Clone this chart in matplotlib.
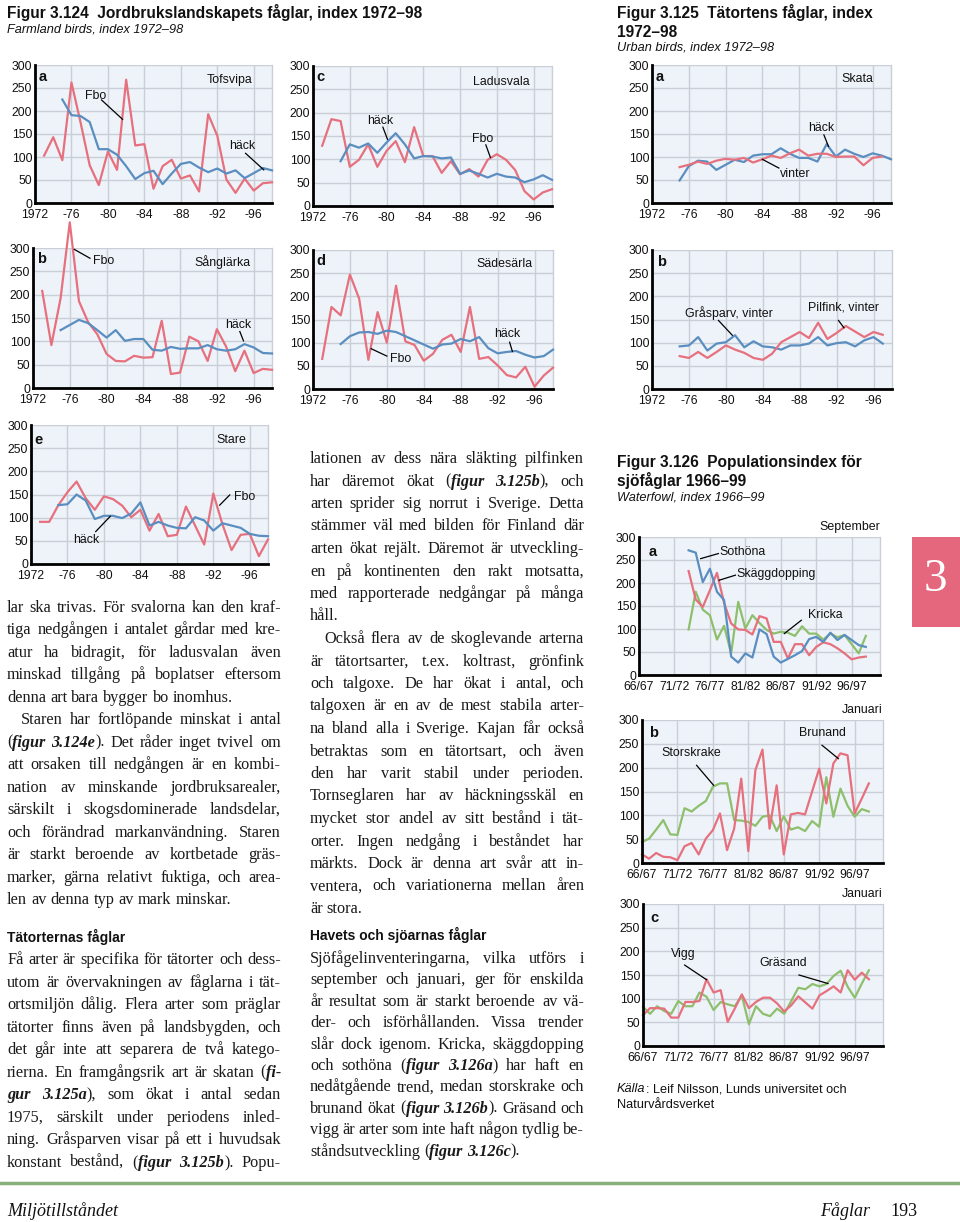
import matplotlib
matplotlib.use('Agg')
import matplotlib.pyplot as plt
from matplotlib.patches import Rectangle
from matplotlib.lines import Line2D

W, H = 960, 1222
fig = plt.figure(figsize=(9.6, 12.22), dpi=100)
fig.patch.set_facecolor('white')

PINK = '#e6707e'
BLUE = '#5b8ec0'
GREEN = '#8dbf6c'
BG = '#eef3f9'
GRIDC = '#c9ced8'
SANS = 'Liberation Sans'
SERIF = 'Liberation Serif'

# ---------------- data ----------------
YRS_73 = list(range(1973, 1999))
YRS_75 = list(range(1975, 1999))
YRS_75_97 = list(range(1975, 1998))
SEASONS = list(range(1966, 1999))
SEASONS_73 = list(range(1973, 1999))

X_TICKS_72 = [1972, 1976, 1980, 1984, 1988, 1992, 1996]
X_LABELS_72 = ['1972', '-76', '-80', '-84', '-88', '-92', '-96']
X_TICKS_66 = [1966, 1971, 1976, 1981, 1986, 1991, 1996]
X_LABELS_66 = ['66/67', '71/72', '76/77', '81/82', '86/87', '91/92', '96/97']
Y_TICKS = [0, 50, 100, 150, 200, 250, 300]

# Fig 3.124a Tofsvipa
tofsvipa_fbo = [103, 143, 93, 262, 175, 82, 39, 112, 72, 268, 125, 128, 31, 80, 94, 53,
                60, 25, 193, 146, 51, 22, 53, 27, 43, 45]
tofsvipa_hack = [225, 191, 189, 176, 117, 117, 105, 80, 52, 65, 70, 41, 64, 85, 89, 77,
                 67, 75, 64, 71, 54, 65, 76, 71]
# Fig 3.124b Sånglärka
sanglarka_fbo = [208, 92, 192, 355, 186, 141, 115, 73, 58, 57, 69, 65, 66, 144, 30, 33,
                 110, 100, 58, 126, 89, 36, 80, 32, 41, 39]
sanglarka_hack = [124, 135, 146, 139, 124, 108, 124, 101, 105, 105, 82, 80, 88, 84, 85, 85,
                  92, 83, 80, 83, 94, 87, 75, 74]
# Fig 3.124c Ladusvala
ladusvala_fbo = [129, 186, 182, 84, 99, 132, 84, 118, 139, 94, 169, 107, 107, 71, 96, 68,
                 79, 63, 99, 111, 99, 77, 32, 14, 29, 36]
ladusvala_hack = [96, 132, 125, 134, 114, 136, 156, 132, 102, 107, 106, 102, 104, 69, 76, 69,
                  61, 69, 63, 61, 51, 57, 66, 56]
# Fig 3.124d Sädesärla
sadesarla_fbo = [65, 177, 159, 247, 195, 63, 166, 100, 223, 103, 95, 61, 76, 106, 117, 80,
                 177, 65, 69, 51, 30, 25, 48, 5, 29, 46]
sadesarla_hack = [97, 114, 122, 123, 119, 126, 123, 114, 105, 96, 87, 96, 98, 108, 103, 112,
                  88, 77, 80, 82, 74, 68, 71, 85]
# Fig 3.124e Stare
stare_fbo = [91, 91, 127, 155, 178, 142, 117, 146, 140, 126, 101, 117, 72, 108, 60, 63,
             124, 83, 42, 152, 86, 30, 63, 65, 17, 53]
stare_hack = [127, 129, 150, 137, 97, 104, 104, 99, 109, 133, 83, 91, 83, 78, 77, 101,
              94, 72, 88, 83, 78, 65, 61, 60]
# Fig 3.125a Skata
skata_hack = [49, 80, 92, 90, 72, 83, 94, 89, 103, 106, 106, 119, 107, 98, 98, 90,
              128, 101, 116, 107, 100, 108, 103, 95]
skata_vinter = [78, 83, 90, 85, 92, 96, 94, 98, 88, 95, 103, 98, 108, 116, 103, 107,
                107, 100, 101, 101, 82, 98, 101]
# Fig 3.125b
grasparv_vinter = [92, 94, 112, 83, 98, 101, 116, 90, 103, 92, 90, 85, 94, 94, 98, 112,
                   94, 99, 101, 92, 105, 112, 98]
pilfink_vinter = [71, 67, 80, 67, 80, 94, 85, 78, 67, 63, 76, 101, 112, 123, 110, 143,
                  108, 121, 136, 124, 112, 123, 117]
# Fig 3.126a (September)
sothona = [271, 266, 202, 231, 181, 163, 40, 27, 47, 38, 99, 89, 40, 27, 35, 43,
           52, 78, 83, 72, 92, 76, 87, 76, 65, 61]
skaggdopping = [226, 164, 148, 184, 222, 157, 112, 99, 98, 88, 128, 123, 72, 72, 36, 67,
                67, 43, 61, 71, 67, 58, 47, 34, 38, 40]
kricka = [99, 181, 142, 130, 77, 107, 47, 159, 101, 130, 113, 98, 90, 94, 92, 85,
          106, 90, 90, 77, 90, 82, 87, 67, 47, 85]
# Fig 3.126b (Januari)
brunand = [18, 9, 21, 13, 12, 6, 35, 42, 18, 51, 69, 104, 27, 72, 177, 25, 195, 238, 72,
           163, 18, 102, 105, 102, 150, 198, 125, 209, 230, 226, 104, 135, 167]
storskrake = [44, 51, 70, 90, 60, 59, 115, 108, 120, 130, 160, 167, 167, 90, 89, 86, 78,
              97, 100, 67, 98, 70, 75, 67, 88, 76, 180, 97, 156, 120, 97, 113, 108]
# Fig 3.126c (Januari)
vigg = [65, 80, 80, 79, 60, 60, 93, 93, 95, 141, 113, 118, 51, 79, 109, 80, 93, 102, 102,
        90, 73, 86, 105, 92, 79, 107, 116, 126, 113, 160, 140, 155, 141]
grasand = [83, 68, 84, 74, 68, 95, 84, 84, 113, 104, 76, 93, 88, 84, 107, 46, 84, 68, 63,
           79, 68, 95, 123, 120, 131, 126, 131, 148, 159, 125, 102, 132, 160]


# ---------------- helpers ----------------
def make_ax(l, t, r, b, xlim, xticks, xlabels):
    ax = fig.add_axes([l / W, 1 - b / H, (r - l) / W, (b - t) / H])
    ax.set_facecolor(BG)
    ax.set_xlim(*xlim)
    ax.set_ylim(0, 300)
    ax.set_xticks(xticks)
    ax.set_xticklabels(xlabels)
    ax.set_yticks(Y_TICKS)
    ax.set_yticklabels([str(v) for v in Y_TICKS])
    ax.grid(True, color=GRIDC, lw=1.0)
    ax.set_axisbelow(True)
    ax.spines['top'].set_visible(False)
    ax.spines['right'].set_color(GRIDC)
    ax.spines['right'].set_linewidth(1.0)
    for s in ['left', 'bottom']:
        ax.spines[s].set_color('black')
        ax.spines[s].set_linewidth(2.0)
        ax.spines[s].set_zorder(5)
    ax.tick_params(length=0, labelsize=8.8, labelcolor='#111111')
    ax.tick_params(axis='y', pad=2)
    ax.tick_params(axis='x', pad=4)
    for lb in ax.get_xticklabels() + ax.get_yticklabels():
        lb.set_family(SANS)
    return ax


def line(ax, x, y, c):
    ax.plot(x, y, color=c, lw=1.6, clip_on=False, solid_joinstyle='round', zorder=3)


def lab(ax, s, x, y, ha='center', bold=False, size=8.9):
    ax.text(x, y, s, ha=ha, va='center', fontsize=size, family=SANS,
            weight='bold' if bold else 'normal', color='#111111', zorder=6)


def leader(ax, x0, y0, x1, y1):
    ax.plot([x0, x1], [y0, y1], color='black', lw=0.9, zorder=6, clip_on=False)


P72 = dict(xlim=(1972, 1998), xticks=X_TICKS_72, xlabels=X_LABELS_72)
P66 = dict(xlim=(1966, 2000), xticks=X_TICKS_66, xlabels=X_LABELS_66)

# ---- Fig 3.124a
ax = make_ax(35, 65, 272, 203, **P72)
line(ax, YRS_73, tofsvipa_fbo, PINK)
line(ax, YRS_75, tofsvipa_hack, BLUE)
lab(ax, 'a', 1972.4, 273, ha='left', bold=True, size=10.5)
lab(ax, 'Tofsvipa', 1993.3, 268)
lab(ax, 'Fbo', 1978.6, 233)
leader(ax, 1979.3, 224, 1981.6, 182)
lab(ax, 'häck', 1994.7, 123)
leader(ax, 1995.1, 108, 1997.1, 72)

# ---- Fig 3.124c
ax = make_ax(313, 66, 552, 206, **P72)
line(ax, YRS_73, ladusvala_fbo, PINK)
line(ax, YRS_75, ladusvala_hack, BLUE)
lab(ax, 'c', 1972.4, 276, ha='left', bold=True, size=10.5)
lab(ax, 'Ladusvala', 1992.5, 265)
lab(ax, 'häck', 1979.3, 182)
leader(ax, 1979.6, 169, 1980.1, 143)
lab(ax, 'Fbo', 1990.4, 143)
leader(ax, 1990.8, 131, 1991.3, 104)

# ---- Fig 3.125a
ax = make_ax(652, 65, 891, 203, **P72)
line(ax, YRS_75, skata_hack, BLUE)
line(ax, YRS_75_97, skata_vinter, PINK)
lab(ax, 'a', 1972.4, 273, ha='left', bold=True, size=10.5)
lab(ax, 'Skata', 1994.3, 270)
lab(ax, 'häck', 1990.4, 163)
leader(ax, 1990.7, 148, 1991.2, 123)
lab(ax, 'vinter', 1987.6, 64)
leader(ax, 1985.8, 76, 1984.0, 95)

# ---- Fig 3.124b
ax = make_ax(33, 248, 272, 388, **P72)
line(ax, YRS_73, sanglarka_fbo, PINK)
line(ax, YRS_75, sanglarka_hack, BLUE)
lab(ax, 'b', 1972.4, 277, ha='left', bold=True, size=10.5)
lab(ax, 'Sånglärka', 1992.6, 269)
lab(ax, 'Fbo', 1979.7, 272)
leader(ax, 1978.2, 278, 1976.5, 297)
lab(ax, 'häck', 1994.3, 134)
leader(ax, 1994.5, 121, 1994.9, 101)

# ---- Fig 3.124d
ax = make_ax(313, 250, 553, 389, **P72)
line(ax, YRS_73, sadesarla_fbo, PINK)
line(ax, YRS_75, sadesarla_hack, BLUE)
lab(ax, 'd', 1972.4, 276, ha='left', bold=True, size=10.5)
lab(ax, 'Sädesärla', 1992.7, 269)
lab(ax, 'häck', 1993.0, 119)
leader(ax, 1993.3, 101, 1993.6, 81)
lab(ax, 'Fbo', 1981.5, 65)
leader(ax, 1980.0, 71, 1978.3, 87)

# ---- Fig 3.125b
ax = make_ax(652, 250, 892, 389, **P72)
line(ax, YRS_75_97, grasparv_vinter, BLUE)
line(ax, YRS_75_97, pilfink_vinter, PINK)
lab(ax, 'b', 1972.6, 275, ha='left', bold=True, size=10.5)
lab(ax, 'Gråsparv, vinter', 1980.3, 163)
leader(ax, 1979.2, 148, 1980.7, 116)
lab(ax, 'Pilfink, vinter', 1992.8, 175)
leader(ax, 1992.2, 148, 1992.8, 132)

# ---- Fig 3.124e
ax = make_ax(31, 425, 268, 564, **P72)
line(ax, YRS_73, stare_fbo, PINK)
line(ax, YRS_75, stare_hack, BLUE)
lab(ax, 'e', 1972.4, 268, ha='left', bold=True, size=10.5)
lab(ax, 'Stare', 1994.0, 268)
lab(ax, 'Fbo', 1995.4, 144)
leader(ax, 1993.8, 149, 1992.7, 127)
lab(ax, 'häck', 1978.1, 52)
leader(ax, 1979.1, 70, 1980.7, 103)

# ---- Fig 3.126a
ax = make_ax(639, 537, 880, 675, **P66)
line(ax, SEASONS_73, kricka, GREEN)
line(ax, SEASONS_73, skaggdopping, PINK)
line(ax, SEASONS_73, sothona, BLUE)
lab(ax, 'a', 1967.3, 267, ha='left', bold=True, size=10.5)
lab(ax, 'Sothöna', 1977.3, 267, ha='left')
leader(ax, 1977.2, 264, 1974.7, 253)
lab(ax, 'Skäggdopping', 1979.7, 219, ha='left')
leader(ax, 1979.6, 217, 1977.3, 206)
lab(ax, 'Kricka', 1989.9, 130, ha='left')
leader(ax, 1988.9, 119, 1986.5, 90)
ax.text(1.0, 1.03, 'September', transform=ax.transAxes, ha='right', va='bottom',
        fontsize=8.9, family=SANS, color='#111111')

# ---- Fig 3.126b
ax = make_ax(642, 720, 883, 863, **P66)
line(ax, SEASONS, storskrake, GREEN)
line(ax, SEASONS, brunand, PINK)
lab(ax, 'b', 1967.0, 272, ha='left', bold=True, size=10.5)
lab(ax, 'Storskrake', 1972.9, 230)
leader(ax, 1973.7, 205, 1976.1, 163)
lab(ax, 'Brunand', 1991.5, 272)
leader(ax, 1991.4, 247, 1993.7, 219)
ax.text(1.0, 1.03, 'Januari', transform=ax.transAxes, ha='right', va='bottom',
        fontsize=8.9, family=SANS, color='#111111')

# ---- Fig 3.126c
ax = make_ax(643, 904, 883, 1046, **P66)
line(ax, SEASONS, grasand, GREEN)
line(ax, SEASONS, vigg, PINK)
lab(ax, 'c', 1967.0, 270, ha='left', bold=True, size=10.5)
lab(ax, 'Vigg', 1971.7, 195)
leader(ax, 1971.9, 171, 1975.0, 140)
lab(ax, 'Gräsand', 1985.9, 176)
leader(ax, 1988.1, 150, 1992.2, 132)
ax.text(1.0, 1.03, 'Januari', transform=ax.transAxes, ha='right', va='bottom',
        fontsize=8.9, family=SANS, color='#111111')


# ---------------- page texts ----------------
renderer = fig.canvas.get_renderer()


def ftext(x, y, s, size=9, weight='normal', style='normal', family=SANS, ha='left',
          color='#111111'):
    return fig.text(x / W, 1 - y / H, s, fontsize=size, weight=weight, style=style,
                    family=family, ha=ha, va='baseline', color=color)


ftext(7, 18, 'Figur 3.124  Jordbrukslandskapets fåglar, index 1972–98', size=11.2, weight='bold')
ftext(7, 32, 'Farmland birds, index 1972–98', size=9.2, style='italic')
ftext(617, 18, 'Figur 3.125  Tätortens fåglar, index', size=11.2, weight='bold')
ftext(617, 37, '1972–98', size=11.2, weight='bold')
ftext(617, 51, 'Urban birds, index 1972–98', size=9.2, style='italic')
ftext(617, 467, 'Figur 3.126  Populationsindex för', size=11.2, weight='bold')
ftext(617, 486, 'sjöfåglar 1966–99', size=11.2, weight='bold')
ftext(617, 500, 'Waterfowl, index 1966–99', size=9.2, style='italic')
kt = ftext(617, 1092, 'Källa', size=9.2, style='italic')
kw = kt.get_window_extent(renderer).width
ftext(617 + kw + 0.5, 1092, ': Leif Nilsson, Lunds universitet och', size=9.2)
ftext(617, 1108, 'Naturvårdsverket', size=9.2)

ftext(7, 942, 'Tätorternas fåglar', size=10, weight='bold')
ftext(310, 940, 'Havets och sjöarnas fåglar', size=10, weight='bold')

BODY = 11.7


def parse(line_s):
    segs, style, buf = [], 'n', ''
    for ch in line_s:
        if ch == '*':
            if buf:
                segs.append((buf, style))
                buf = ''
            style = 'bi' if style == 'n' else 'n'
        else:
            buf += ch
    if buf:
        segs.append((buf, style))
    words = [[]]
    for txt, st in segs:
        parts = txt.split(' ')
        for i, p in enumerate(parts):
            if i > 0:
                words.append([])
            if p:
                words[-1].append((p, st))
    return [w for w in words if w]


def mk(s, st, size):
    return fig.text(0, 0, s, fontsize=size, family=SERIF,
                    style='italic' if 'i' in st else 'normal',
                    weight='bold' if 'b' in st else 'normal',
                    va='baseline', ha='left', color='#1a1a1a')


def draw_par(lines, x0, x1, ytop, dy):
    for k, raw in enumerate(lines):
        y = ytop + k * dy
        justify = not raw.endswith('|')
        raw = raw.rstrip('|')
        indent = 0
        if raw.startswith('>'):
            indent = 14
            raw = raw[1:]
        size = BODY
        words = parse(raw)
        for attempt in range(3):
            objs = []
            widths = []
            for w in words:
                pieces = []
                tot = 0
                for s, st in w:
                    t = mk(s, st, size)
                    wd = t.get_window_extent(renderer).width
                    pieces.append((t, wd))
                    tot += wd
                objs.append(pieces)
                widths.append(tot)
            space = size * 100 / 72 * 0.25
            avail = x1 - x0 - indent
            natural = sum(widths) + space * 0.75 * (len(words) - 1)
            if natural > avail and attempt < 2:
                for pieces in objs:
                    for t, _ in pieces:
                        t.remove()
                size = size * avail / natural * 0.995
                continue
            break
        if justify and len(words) > 1:
            gap = (avail - sum(widths)) / (len(words) - 1)
        else:
            gap = space
        x = x0 + indent
        for pieces, wd in zip(objs, widths):
            xx = x
            for t, pw in pieces:
                t.set_position((xx / W, 1 - y / H))
                xx += pw
            x += wd + gap


LEFT1 = [
    "lar ska trivas. För svalorna kan den kraf-",
    "tiga nedgången i antalet gårdar med kre-",
    "atur ha bidragit, för ladusvalan även",
    "minskad tillgång på boplatser eftersom",
    "denna art bara bygger bo inomhus.|",
    ">Staren har fortlöpande minskat i antal",
    "(*figur 3.124e*). Det råder inget tvivel om",
    "att orsaken till nedgången är en kombi-",
    "nation av minskande jordbruksarealer,",
    "särskilt i skogsdominerade landsdelar,",
    "och förändrad markanvändning. Staren",
    "är starkt beroende av kortbetade gräs-",
    "marker, gärna relativt fuktiga, och area-",
    "len av denna typ av mark minskar.|",
]
LEFT2 = [
    "Få arter är specifika för tätorter och dess-",
    "utom är övervakningen av fåglarna i tät-",
    "ortsmiljön dålig. Flera arter som präglar",
    "tätorter finns även på landsbygden, och",
    "det går inte att separera de två katego-",
    "rierna. En framgångsrik art är skatan (*fi-*",
    "*gur 3.125a*), som ökat i antal sedan",
    "1975, särskilt under periodens inled-",
    "ning. Gråsparven visar på ett i huvudsak",
    "konstant bestånd, (*figur 3.125b*). Popu-",
]
MID1 = [
    "lationen av dess nära släkting pilfinken",
    "har däremot ökat (*figur 3.125b*), och",
    "arten sprider sig norrut i Sverige. Detta",
    "stämmer väl med bilden för Finland där",
    "arten ökat rejält. Däremot är utveckling-",
    "en på kontinenten den rakt motsatta,",
    "med rapporterade nedgångar på många",
    "håll.|",
    ">Också flera av de skoglevande arterna",
    "är tätortsarter, t.ex. koltrast, grönfink",
    "och talgoxe. De har ökat i antal, och",
    "talgoxen är en av de mest stabila arter-",
    "na bland alla i Sverige. Kajan får också",
    "betraktas som en tätortsart, och även",
    "den har varit stabil under perioden.",
    "Tornseglaren har av häckningsskäl en",
    "mycket stor andel av sitt bestånd i tät-",
    "orter. Ingen nedgång i beståndet har",
    "märkts. Dock är denna art svår att in-",
    "ventera, och variationerna mellan åren",
    "är stora.|",
]
MID2 = [
    "Sjöfågelinventeringarna, vilka utförs i",
    "september och januari, ger för enskilda",
    "år resultat som är starkt beroende av vä-",
    "der- och isförhållanden. Vissa trender",
    "slår dock igenom. Kricka, skäggdopping",
    "och sothöna (*figur 3.126a*) har haft en",
    "nedåtgående trend, medan storskrake och",
    "brunand ökat (*figur 3.126b*). Gräsand och",
    "vigg är arter som inte haft någon tydlig be-",
    "ståndsutveckling (*figur 3.126c*).|",
]

draw_par(LEFT1, 7, 281, 612, 22.46)
draw_par(LEFT2, 7, 281, 964, 22.56)
draw_par(MID1, 310, 584, 463, 22.5)
draw_par(MID2, 310, 584, 963, 21.4)

# Side tab
fig.patches.append(Rectangle((912 / W, 1 - 627 / H), 48 / W, 90 / H,
                             transform=fig.transFigure, facecolor='#e4677d',
                             edgecolor='none'))
fig.text(935 / W, 1 - 580 / H, '3', fontsize=34, family=SERIF, color='white',
         ha='center', va='center')

# Footer
fig.lines.append(Line2D([0, 1], [1 - 1183 / H, 1 - 1183 / H], transform=fig.transFigure,
                        color='#88b07a', lw=2.5))
ftext(7, 1216, 'Miljötillståndet', size=13, style='italic', family=SERIF)
ftext(820, 1216, 'Fåglar', size=13, style='italic', family=SERIF)
ftext(890, 1216, '193', size=13, family=SERIF)

fig.savefig('out.png', dpi=100, facecolor='white')
